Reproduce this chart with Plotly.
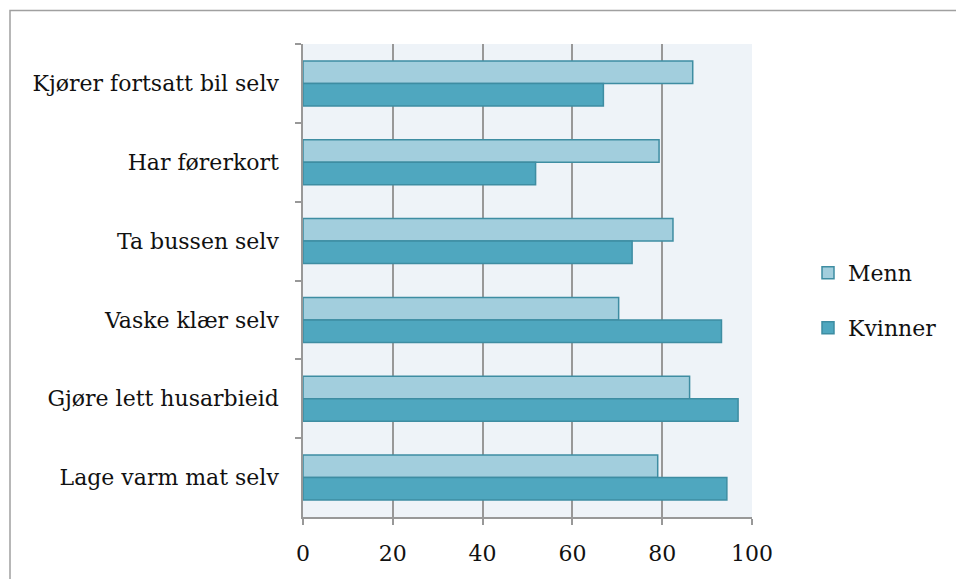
import plotly.graph_objects as go

categories = ["Kjører fortsatt bil selv", "Har førerkort", "Ta bussen selv",
              "Vaske klær selv", "Gjøre lett husarbieid", "Lage varm mat selv"]
menn = [86.8, 79.3, 82.4, 70.3, 86.1, 79.0]
kvinner = [66.9, 51.8, 73.3, 93.2, 96.9, 94.4]
x_ticks = [0, 20, 40, 60, 80, 100]

FONT = "DejaVu Serif"
GRID = "#989898"
EDGE = "#3E8DA2"

fig = go.Figure()
fig.add_trace(go.Bar(y=categories, x=menn, name="Menn", orientation="h",
                     marker=dict(color="#A2CEDD", line=dict(color=EDGE, width=1.5)),
                     legend="legend"))
fig.add_trace(go.Bar(y=categories, x=kvinner, name="Kvinner", orientation="h",
                     marker=dict(color="#4FA7BF", line=dict(color=EDGE, width=1.5)),
                     legend="legend2"))

L, R, T, B = 303, 956 - 752, 44, 579 - 517
W, H = 956 - L - R, 579 - T - B

fig.update_layout(
    width=956, height=579,
    margin=dict(l=L, r=R, t=T, b=B),
    paper_bgcolor="white", plot_bgcolor="#EEF3F8",
    barmode="group", bargap=0.43, bargroupgap=0,
    font=dict(family=FONT, size=22, color="#111111"),
    xaxis=dict(range=[0, 100], tickvals=x_ticks, showgrid=True, gridcolor=GRID, gridwidth=1.5,
               showline=True, linecolor=GRID, linewidth=1.5, ticks="outside", ticklen=6,
               tickcolor=GRID, tickwidth=1.5, zeroline=False, ticklabelstandoff=10,
               fixedrange=True),
    yaxis=dict(autorange="reversed", showline=True, linecolor=GRID, linewidth=1.5,
               ticks="outside", ticklen=6, tickcolor=GRID, tickwidth=1.5,
               tickson="boundaries", showgrid=False, ticklabelstandoff=18),
    legend=dict(x=(808 - L) / W, y=1 - (273 - T) / H, xanchor="left", yanchor="middle",
                bgcolor="rgba(0,0,0,0)", font=dict(size=22)),
    legend2=dict(x=(808 - L) / W, y=1 - (328 - T) / H, xanchor="left", yanchor="middle",
                 bgcolor="rgba(0,0,0,0)", font=dict(size=22)),
    showlegend=True,
    shapes=[dict(type="rect", xref="paper", yref="paper",
                 x0=(10 - L) / W, x1=(1100 - L) / W,
                 y0=1 - (700 - T) / H, y1=1 + (T - 10.5) / H,
                 line=dict(color="#A0A0A0", width=1.5), fillcolor="rgba(0,0,0,0)",
                 layer="below")],
)

fig.write_html("out.html")
